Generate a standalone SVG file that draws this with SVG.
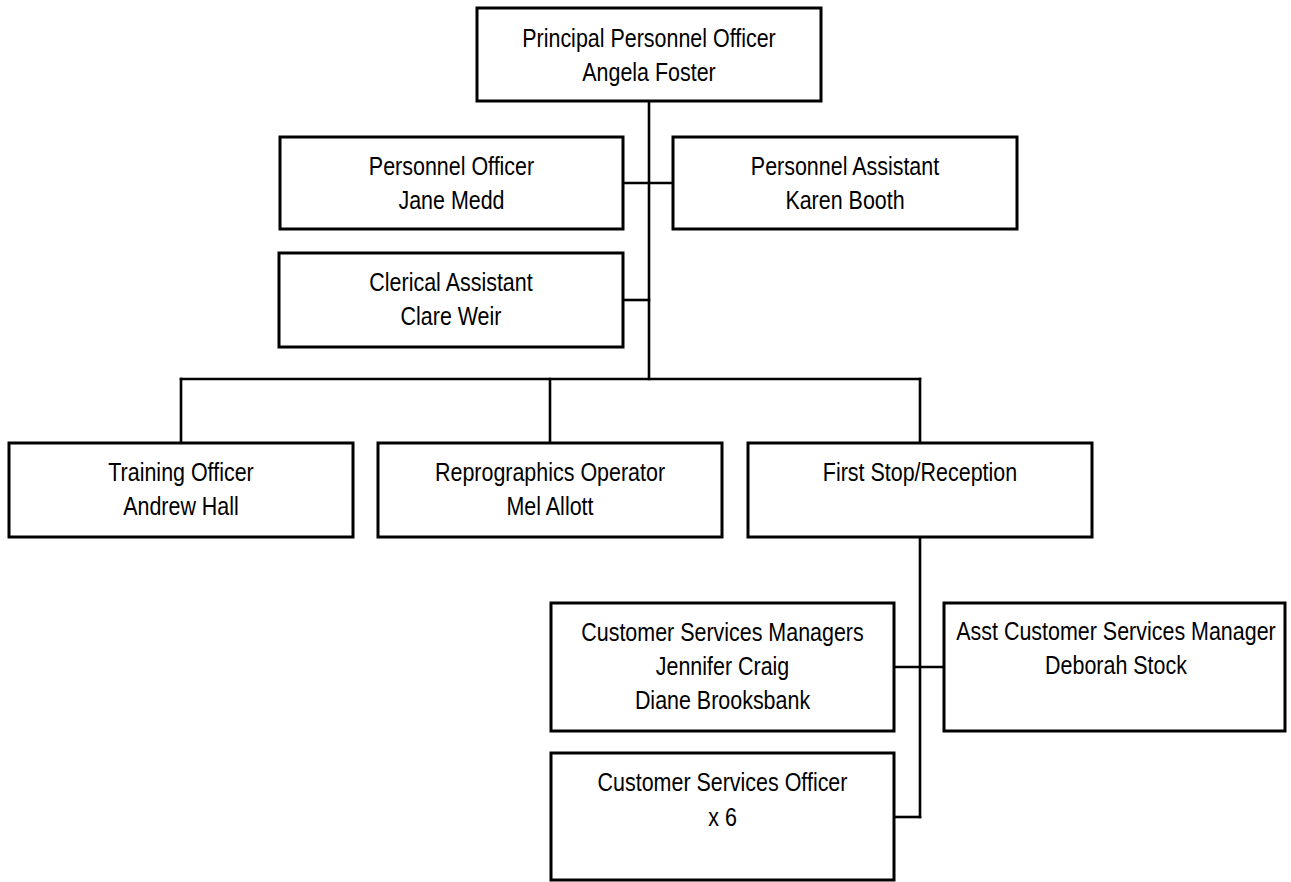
<svg xmlns="http://www.w3.org/2000/svg" width="1291" height="882" viewBox="0 0 1291 882">
  <style>
    .box { fill: #ffffff; stroke: #000000; stroke-width: 3; }
    .lbl { font-family: "Liberation Sans", Arial, sans-serif; font-size: 26px; fill: #000000; text-anchor: middle; }
    .wire { fill: none; stroke: #000000; stroke-width: 2.6; stroke-linecap: square; }
  </style>
  <rect width="1291" height="882" fill="#ffffff"/>

  <!-- reporting lines -->
  <g id="connectors">
    <path class="wire" d="M649,101 V379"/>
    <path class="wire" d="M623,183 H673"/>
    <path class="wire" d="M623,300 H649"/>
    <path class="wire" d="M181,379 H920"/>
    <path class="wire" d="M181,379 V443 M550,379 V443 M920,379 V443"/>
    <path class="wire" d="M920,537 V817"/>
    <path class="wire" d="M894,667 H944"/>
    <path class="wire" d="M894,817 H920"/>
  </g>

  <!-- labels use a horizontally condensed sans (narrow face look) -->
  <g id="principal-personnel-officer">
    <rect class="box" x="477" y="8" width="344" height="93"/>
    <g transform="translate(649,0) scale(0.825,1)">
      <text class="lbl" x="0" y="47">Principal Personnel Officer</text>
      <text class="lbl" x="0" y="81">Angela Foster</text>
    </g>
  </g>

  <g id="personnel-officer">
    <rect class="box" x="280" y="137" width="343" height="92"/>
    <g transform="translate(451.5,0) scale(0.825,1)">
      <text class="lbl" x="0" y="175">Personnel Officer</text>
      <text class="lbl" x="0" y="209">Jane Medd</text>
    </g>
  </g>

  <g id="personnel-assistant">
    <rect class="box" x="673" y="137" width="344" height="92"/>
    <g transform="translate(845,0) scale(0.825,1)">
      <text class="lbl" x="0" y="175">Personnel Assistant</text>
      <text class="lbl" x="0" y="209">Karen Booth</text>
    </g>
  </g>

  <g id="clerical-assistant">
    <rect class="box" x="279" y="253" width="344" height="94"/>
    <g transform="translate(451,0) scale(0.825,1)">
      <text class="lbl" x="0" y="291">Clerical Assistant</text>
      <text class="lbl" x="0" y="325">Clare Weir</text>
    </g>
  </g>

  <g id="training-officer">
    <rect class="box" x="9" y="443" width="344" height="94"/>
    <g transform="translate(181,0) scale(0.825,1)">
      <text class="lbl" x="0" y="481">Training Officer</text>
      <text class="lbl" x="0" y="515">Andrew Hall</text>
    </g>
  </g>

  <g id="reprographics-operator">
    <rect class="box" x="378" y="443" width="344" height="94"/>
    <g transform="translate(550,0) scale(0.825,1)">
      <text class="lbl" x="0" y="481">Reprographics Operator</text>
      <text class="lbl" x="0" y="515">Mel Allott</text>
    </g>
  </g>

  <g id="first-stop-reception">
    <rect class="box" x="748" y="443" width="344" height="94"/>
    <g transform="translate(920,0) scale(0.825,1)">
      <text class="lbl" x="0" y="481">First Stop/Reception</text>
    </g>
  </g>

  <g id="customer-services-managers">
    <rect class="box" x="551" y="603" width="343" height="128"/>
    <g transform="translate(722.5,0) scale(0.825,1)">
      <text class="lbl" x="0" y="641">Customer Services Managers</text>
      <text class="lbl" x="0" y="675">Jennifer Craig</text>
      <text class="lbl" x="0" y="709">Diane Brooksbank</text>
    </g>
  </g>

  <g id="asst-customer-services-manager">
    <rect class="box" x="944" y="603" width="341" height="128"/>
    <g transform="translate(1116,0) scale(0.825,1)">
      <text class="lbl" x="0" y="640">Asst Customer Services Manager</text>
      <text class="lbl" x="0" y="674">Deborah Stock</text>
    </g>
  </g>

  <g id="customer-services-officer">
    <rect class="box" x="551" y="753" width="343" height="127"/>
    <g transform="translate(722.5,0) scale(0.825,1)">
      <text class="lbl" x="0" y="791">Customer Services Officer</text>
      <text class="lbl" x="0" y="826">x 6</text>
    </g>
  </g>
</svg>
